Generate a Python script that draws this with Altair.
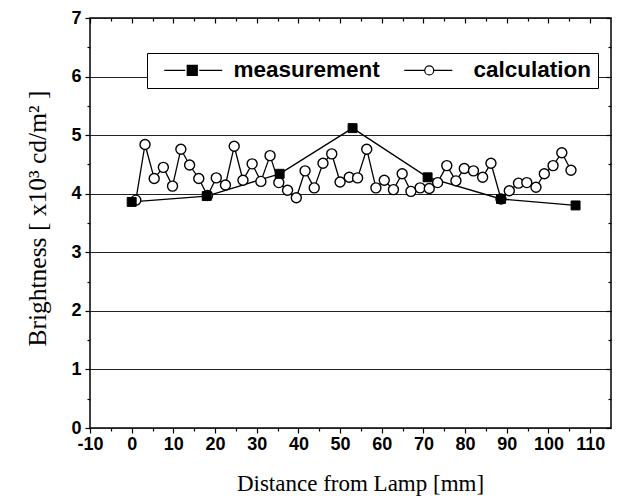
import altair as alt
import pandas as pd

# ---- data ----
meas_x = [0, 18, 35.5, 53, 71, 88.6, 106.5]
meas_y = [3.86, 3.96, 4.34, 5.12, 4.28, 3.91, 3.80]

calc_x = [1.0, 3.2, 5.4, 7.6, 9.8, 11.8, 13.9, 16.1, 18.2, 20.3,
          22.5, 24.6, 26.7, 28.9, 31.0, 33.2, 35.3, 37.4, 39.5, 41.6,
          43.8, 45.9, 48.0, 50.0, 52.2, 54.2, 56.4, 58.6, 60.6, 62.8,
          64.9, 67.0, 69.2, 71.4, 73.4, 75.6, 77.8, 79.8, 82.0, 84.2,
          86.2, 88.6, 90.6, 92.8, 94.8, 97.0, 99.0, 101.1, 103.2, 105.4]
calc_y = [3.89, 4.84, 4.26, 4.45, 4.13, 4.76, 4.49, 4.26, 3.97, 4.27,
          4.15, 4.81, 4.23, 4.51, 4.21, 4.65, 4.19, 4.06, 3.93, 4.39,
          4.10, 4.52, 4.68, 4.20, 4.28, 4.27, 4.76, 4.10, 4.23, 4.07,
          4.34, 4.04, 4.10, 4.09, 4.19, 4.48, 4.22, 4.43, 4.39, 4.28,
          4.52, 3.91, 4.05, 4.18, 4.19, 4.11, 4.34, 4.48, 4.70, 4.40]

series_names = ["measurement", "calculation"]
x_major = list(range(-10, 111, 10))
x_minor = list(range(-5, 111, 10))
y_major = [0, 1, 2, 3, 4, 5, 6, 7]
y_minor = [0.5, 1.5, 2.5, 3.5, 4.5, 5.5, 6.5]

meas = pd.DataFrame({"x": meas_x, "y": meas_y, "series": "measurement"})
calc = pd.DataFrame({"x": calc_x, "y": calc_y, "series": "calculation"})
legend_df = pd.DataFrame({"series": series_names})

W, H = 521, 410
xs = alt.Scale(domain=[-10, 115], nice=False, zero=False)
ys = alt.Scale(domain=[0, 7], nice=False, zero=False)

SANS = "Liberation Sans"
SERIF = "Liberation Serif"

common = dict(domain=False, labelFlush=False, labelOverlap=False,
              tickColor="black", tickWidth=1.2)

ax_x_main = alt.Axis(values=x_major, title="Distance from Lamp [mm]",
                     labelExpr="'' + datum.value", labelFont=SANS,
                     labelFontWeight="bold", labelFontSize=18, labelColor="black",
                     labelPadding=2, tickSize=5, grid=False,
                     titleFont=SERIF, titleFontSize=23, titleFontWeight="normal",
                     titleColor="black", titleX=270, titleY=62,
                     titleAlign="center", titleBaseline="alphabetic", **common)
ax_y_main = alt.Axis(values=y_major, title="Brightness [ x10³ cd/m² ]",
                     labelFont=SANS, labelFontWeight="bold", labelFontSize=18,
                     labelColor="black", labelPadding=4, tickSize=5,
                     grid=True, gridColor="#222222", gridWidth=1,
                     titleFont=SERIF, titleFontSize=25.5, titleFontWeight="normal",
                     titleColor="black", titleX=-53, titleY=200,
                     titleAngle=270, titleAlign="center", titleBaseline="middle",
                     **common)

def tick_axis(values, orient, size, offset=0):
    return alt.Axis(values=values, orient=orient, labels=False, title=None,
                    grid=False, tickSize=size, offset=offset, **common)

ax_x_minor = tick_axis(x_minor, "bottom", 3)
ax_y_minor = tick_axis(y_minor, "left", 3)
ax_top_major = tick_axis(x_major, "bottom", 5, offset=-H)
ax_top_minor = tick_axis(x_minor, "bottom", 3, offset=-H)
ax_right_major = tick_axis(y_major, "left", 5, offset=-W)
ax_right_minor = tick_axis(y_minor, "left", 3, offset=-W)

m_line = alt.Chart(meas).mark_line(color="black", strokeWidth=1.3).encode(
    x=alt.X("x:Q", scale=xs, axis=ax_x_main),
    y=alt.Y("y:Q", scale=ys, axis=ax_y_main),
)
c_line = alt.Chart(calc).mark_line(color="black", strokeWidth=1.3).encode(
    x=alt.X("x:Q", scale=xs, axis=ax_x_minor),
    y=alt.Y("y:Q", scale=ys, axis=ax_y_minor),
)
c_pts = alt.Chart(calc).mark_point(shape="circle", size=100, filled=True,
                                   fill="white", stroke="black",
                                   strokeWidth=1.4, opacity=1).encode(
    x=alt.X("x:Q", scale=xs, axis=ax_top_major),
    y=alt.Y("y:Q", scale=ys, axis=ax_right_major),
)
m_pts = alt.Chart(meas).mark_point(shape="square", size=80, filled=True,
                                   fill="black", stroke="black",
                                   strokeWidth=1, opacity=1).encode(
    x=alt.X("x:Q", scale=xs, axis=ax_top_minor),
    y=alt.Y("y:Q", scale=ys, axis=ax_right_minor),
)

# legend symbols: line + marker + line (unit = 10 px, symbol centred at 10 px)
sq_path = "M0,0H2.1M3.5,0H5.8M2.3,-0.5H3.3V0.5H2.3Z"
circ_path = ("M0,0H2.05M2.95,0H4.8M2.05,0A0.45,0.45,0,1,0,2.95,0"
             "A0.45,0.45,0,1,0,2.05,0Z")

leg = alt.Legend(orient="none", legendX=57, legendY=35, direction="horizontal",
                 title=None, fillColor="white", strokeColor="black", padding=6,
                 symbolSize=400, symbolStrokeWidth=1.2,
                 labelFont=SANS, labelFontWeight="bold", labelFontSize=22.5,
                 labelColor="black", labelOffset=58, columnPadding=13,
                 cornerRadius=0)

legend_layer = alt.Chart(legend_df).transform_filter("false").mark_point(
    strokeWidth=1.2, opacity=1).encode(
    shape=alt.Shape("series:N", scale=alt.Scale(domain=series_names,
                                                range=[sq_path, circ_path]),
                    legend=leg),
    fill=alt.Fill("series:N", scale=alt.Scale(domain=series_names,
                                              range=["black", "white"]),
                  legend=leg),
    stroke=alt.Stroke("series:N", scale=alt.Scale(domain=series_names,
                                                  range=["black", "black"]),
                      legend=leg),
)

chart = alt.layer(m_line, c_line, c_pts, m_pts, legend_layer).resolve_axis(
    x="independent", y="independent"
).properties(
    width=W, height=H,
    autosize=alt.AutoSizeParams(type="none"),
    padding={"left": 90, "top": 18, "right": 12, "bottom": 73},
    background="white",
).configure_view(stroke="black", strokeWidth=1.5)

chart.save("out.html", embed_options={"renderer": "svg", "actions": False})
